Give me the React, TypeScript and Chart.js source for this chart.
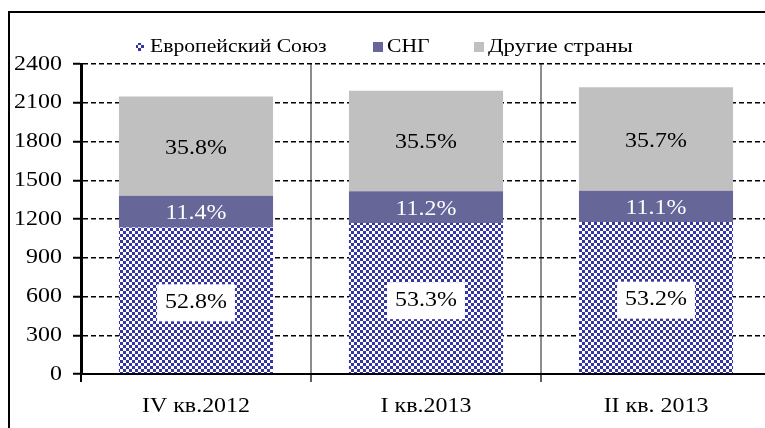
import React, { useEffect, useRef } from "react";
import { Chart, registerables } from "chart.js";

Chart.register(...registerables);

// ---- data ----
const categories = ["IV кв.2012", "I кв.2013", "II кв. 2013"];
const seriesNames = ["Европейский Союз", "СНГ", "Другие страны"];
const euValues = [1135, 1169, 1176];
const cisValues = [245, 246, 242];
const otherValues = [769, 778, 802];
const euLabels = ["52.8%", "53.3%", "53.2%"];
const cisLabels = ["11.4%", "11.2%", "11.1%"];
const otherLabels = ["35.8%", "35.5%", "35.7%"];
const yMin = 0;
const yMax = 2400;
const yStep = 300;

// ---- style ----
const SX = 1.14; // horizontal text stretch of the original picture
const SERIF = "'Liberation Serif', 'Times New Roman', serif";
const EU_BLUE = "#3535a6";
const CIS_COLOR = "#666699";
const OTHER_COLOR = "#c0c0c0";

function makePattern(ctx: CanvasRenderingContext2D) {
  const c = document.createElement("canvas");
  c.width = 6;
  c.height = 6;
  const g = c.getContext("2d")!;
  g.fillStyle = "#ffffff";
  g.fillRect(0, 0, 6, 6);
  g.fillStyle = EU_BLUE;
  g.fillRect(0, 0, 3, 3);
  g.fillRect(3, 3, 3, 3);
  return ctx.createPattern(c, "repeat")!;
}

function drawText(
  ctx: CanvasRenderingContext2D,
  text: string,
  x: number,
  y: number,
  align: CanvasTextAlign,
  size: number,
  color: string,
  sx: number = SX
) {
  ctx.save();
  ctx.font = `${size}px ${SERIF}`;
  ctx.fillStyle = color;
  ctx.textBaseline = "middle";
  ctx.textAlign = align;
  ctx.translate(x, y);
  ctx.scale(sx, 1);
  ctx.fillText(text, 0, 0);
  ctx.restore();
}

function textWidth(ctx: CanvasRenderingContext2D, text: string, size: number) {
  ctx.save();
  ctx.font = `${size}px ${SERIF}`;
  const w = ctx.measureText(text).width * SX;
  ctx.restore();
  return w;
}

const overlayPlugin = {
  id: "overlay",
  afterDatasetsDraw(chart: any) {
    const ctx: CanvasRenderingContext2D = chart.ctx;
    const labelSets = [euLabels, cisLabels, otherLabels];
    const colors = ["#000000", "#ffffff", "#000000"];
    chart.data.datasets.forEach((_: any, di: number) => {
      const meta = chart.getDatasetMeta(di);
      meta.data.forEach((bar: any, i: number) => {
        const cx = bar.x;
        const cy = (bar.y + bar.base) / 2 + 2;
        const txt = labelSets[di][i];
        if (di === 0) {
          const w = textWidth(ctx, txt, 21);
          ctx.save();
          ctx.fillStyle = "#ffffff";
          ctx.fillRect(cx - w / 2 - 8, cy - 18, w + 16, 37);
          ctx.restore();
        }
        drawText(ctx, txt, cx, cy, "center", 21, colors[di]);
      });
    });
  },
  afterDraw(chart: any) {
    const ctx: CanvasRenderingContext2D = chart.ctx;
    const yScale = chart.scales.y;
    const xScale = chart.scales.x;
    // y tick labels
    yScale.ticks.forEach((t: any, i: number) => {
      const py = yScale.getPixelForTick(i);
      drawText(ctx, String(t.value), yScale.right - 19, py, "right", 21, "#000");
    });
    // x tick labels
    categories.forEach((c, i) => {
      const px = xScale.getPixelForValue(i);
      drawText(ctx, c, px, xScale.top + 32, "center", 21, "#000");
    });
    // legend
    const ly = 47;
    ctx.save();
    ctx.fillStyle = "#ffffff";
    ctx.fillRect(93, 30, 442, 33);
    ctx.restore();
    const markers = [136, 373, 474];
    const markerSize = [8, 10, 10];
    const fills = [makePattern(ctx), CIS_COLOR, OTHER_COLOR];
    const stretch = [1.14, 1.14, 1.2];
    seriesNames.forEach((n, i) => {
      ctx.save();
      ctx.fillStyle = fills[i] as any;
      const m = markerSize[i];
      ctx.fillRect(markers[i], ly - m / 2, m, m);
      ctx.restore();
      drawText(ctx, n, markers[i] + 14, ly, "left", 19, "#000", stretch[i]);
    });
    // outer frame (cropped on right / bottom)
    ctx.save();
    ctx.strokeStyle = "#000";
    ctx.lineWidth = 2;
    ctx.beginPath();
    ctx.moveTo(9, 440);
    ctx.lineTo(9, 12);
    ctx.lineTo(800, 12);
    ctx.stroke();
    ctx.restore();
  },
};

export default function App() {
  const ref = useRef<HTMLCanvasElement | null>(null);
  useEffect(() => {
    const canvas = ref.current!;
    const ctx = canvas.getContext("2d")!;
    const pattern = makePattern(ctx);
    const chart = new Chart(canvas, {
      type: "bar",
      data: {
        labels: categories,
        datasets: [
          { label: seriesNames[0], data: euValues, backgroundColor: pattern as any },
          { label: seriesNames[1], data: cisValues, backgroundColor: CIS_COLOR },
          { label: seriesNames[2], data: otherValues, backgroundColor: OTHER_COLOR },
        ],
      },
      options: {
        animation: false,
        responsive: false,
        devicePixelRatio: 1,
        layout: { padding: { left: 0, top: 64, right: 9, bottom: 0 } },
        datasets: { bar: { categoryPercentage: 1, barPercentage: 0.67 } },
        plugins: { legend: { display: false }, tooltip: { enabled: false } },
        scales: {
          x: {
            stacked: true,
            offset: true,
            grid: {
              offset: true,
              drawOnChartArea: true,
              lineWidth: 2,
              tickLength: 8,
              color: (c: any) => (c.index === 1 || c.index === 2 ? "#8c8c8c" : "rgba(0,0,0,0)"),
              tickColor: (c: any) =>
                c.index === 0 ? "#000" : c.index === 1 || c.index === 2 ? "#606060" : "rgba(0,0,0,0)",
            },
            border: { display: true, color: "#000", width: 2, z: 1 },
            ticks: { display: false },
            afterFit: (s: any) => {
              s.height = 54;
            },
          },
          y: {
            stacked: true,
            min: yMin,
            max: yMax,
            ticks: { display: false, stepSize: yStep },
            grid: {
              color: "#000",
              lineWidth: 1.5,
              tickLength: 8,
              tickBorderDash: [],
              tickWidth: 2,
            },
            // in Chart.js 4 border.dash styles the grid lines; the axis line itself stays solid
            border: { display: true, color: "#000", width: 3, dash: [5, 3], z: 1 },
            afterFit: (s: any) => {
              s.width = 81;
            },
          },
        },
      },
      plugins: [overlayPlugin],
    } as any);
    return () => chart.destroy();
  }, []);
  return (
    <div
      style={{
        position: "fixed",
        left: 0,
        top: 0,
        width: 765,
        height: 428,
        overflow: "hidden",
        background: "#fff",
      }}
    >
      <canvas ref={ref} width={780} height={428} style={{ display: "block" }} />
    </div>
  );
}
